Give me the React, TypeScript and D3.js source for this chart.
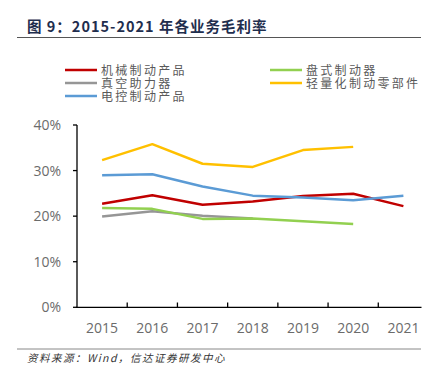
import React from "react";
import * as d3 from "d3";

const years = ["2015", "2016", "2017", "2018", "2019", "2020", "2021"];
const mech = [22.7, 24.6, 22.5, 23.2, 24.4, 24.9, 22.2];
const vacuum = [19.9, 21.1, 20.1, 19.5, null, null, null];
const elec = [29.0, 29.2, 26.5, 24.5, 24.1, 23.5, 24.5];
const disc = [21.8, 21.6, 19.4, 19.5, 18.9, 18.3, null];
const light = [32.3, 35.8, 31.5, 30.8, 34.5, 35.2, null];
const yTicks = [0, 10, 20, 30, 40];

const series = [
  { name: "机械制动产品", values: mech, color: "#C00000" },
  { name: "真空助力器", values: vacuum, color: "#969696" },
  { name: "电控制动产品", values: elec, color: "#5B9BD5" },
  { name: "盘式制动器", values: disc, color: "#92D050" },
  { name: "轻量化制动零部件", values: light, color: "#FFC000" },
];

export default function App() {
  const W = 443, H = 384;
  const x0 = 77, x1 = 428.5;
  const x = d3.scaleBand<string>().domain(years).range([x0, x1]);
  const y = d3.scaleLinear().domain([0, 40]).range([307.3, 125]);
  const line = d3
    .line<number | null>()
    .defined((d) => d !== null)
    .x((_, i) => (x(years[i]) as number) + x.bandwidth() / 2)
    .y((d) => y(d as number));

  const legendPos = [
    { lx: 65, ly: 70 },
    { lx: 65, ly: 83 },
    { lx: 65, ly: 96 },
    { lx: 270, ly: 70 },
    { lx: 270, ly: 83 },
  ];
  const tickFont = "'Open Sans', 'Noto Sans', sans-serif";
  const cjk = "'Noto Sans CJK SC', sans-serif";

  return (
    <svg width={W} height={H} style={{ position: "absolute", left: 0, top: 0, background: "#fff" }}>
      <text x={27} y={32} fontFamily={cjk} fontWeight={700} fontSize={14.5} letterSpacing={1} fill="#1F2E4E">
        图 9：2015-2021 年各业务毛利率
      </text>
      <line x1={17} x2={421} y1={37.5} y2={37.5} stroke="#555" strokeWidth={1} />

      {series.map((s, i) => (
        <g key={s.name}>
          <line x1={legendPos[i].lx} x2={legendPos[i].lx + 32} y1={legendPos[i].ly} y2={legendPos[i].ly} stroke={s.color} strokeWidth={2.5} />
          <text x={legendPos[i].lx + 36} y={legendPos[i].ly + 4.5} fontFamily={cjk} fontSize={12} letterSpacing={2.3} fill="#595959">
            {s.name}
          </text>
        </g>
      ))}

      {series.map((s) => (
        <path key={s.name} d={line(s.values) || ""} fill="none" stroke={s.color} strokeWidth={2.5} strokeLinejoin="round" />
      ))}

      <line x1={x0} x2={x0} y1={125} y2={307.3} stroke="#000" strokeWidth={1.3} />
      {yTicks.map((t) => (
        <g key={t}>
          <line x1={x0 - 4} x2={x0} y1={y(t)} y2={y(t)} stroke="#000" strokeWidth={1.3} />
          <text x={61} y={y(t) + 5} textAnchor="end" fontFamily={tickFont} fontSize={14} fill="#6b6b6b">
            {t}%
          </text>
        </g>
      ))}
      <line x1={x0 - 1} x2={421.5} y1={307.3} y2={307.3} stroke="#000" strokeWidth={1.3} />
      {years.slice(1).map((yr) => (
        <line key={yr} x1={x(yr) as number} x2={x(yr) as number} y1={302.5} y2={307.3} stroke="#000" strokeWidth={1.3} />
      ))}
      {years.map((yr) => (
        <text key={yr} x={(x(yr) as number) + x.bandwidth() / 2} y={333} textAnchor="middle" fontFamily={tickFont} fontSize={14} fill="#6b6b6b">
          {yr}
        </text>
      ))}

      <line x1={17} x2={421} y1={349} y2={349} stroke="#888" strokeWidth={1} />
      <text x={27} y={362} fontFamily={cjk} fontStyle="italic" fontSize={10.5} letterSpacing={1.5} fill="#333">
        资料来源：Wind，信达证券研发中心
      </text>
    </svg>
  );
}
